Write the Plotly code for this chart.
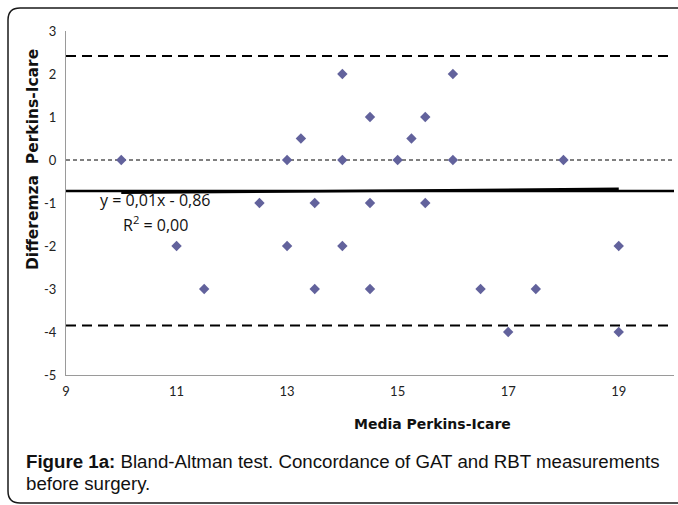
import plotly.graph_objects as go

# ---- data ----
media = [10, 11, 11.5, 12.5, 13, 13, 13.25, 13.5, 13.5, 14, 14, 14, 14.5, 14.5, 14.5,
         15, 15.25, 15.5, 15.5, 16, 16, 16.5, 17, 17.5, 18, 19, 19]
differenza = [0, -2, -3, -1, 0, -2, 0.5, -1, -3, 2, 0, -2, 1, -1, -3,
              0, 0.5, 1, -1, 2, 0, -3, -4, -3, 0, -2, -4]
mean_diff = -0.72
upper_loa = 2.42
lower_loa = -3.85
trend_slope = 0.01
trend_intercept = -0.86
trend_x = [10, 19]
x_ticks = [9, 11, 13, 15, 17, 19]
x_tick_labels = ["9", "11", "13", "15", "17", "19"]
y_ticks = [-5, -4, -3, -2, -1, 0, 1, 2, 3]
y_tick_labels = ["-5", "-4", "-3", "-2", "-1", "0", "1", "2", "3"]
x_range = [9, 20]
y_range = [-5, 3]

W, H = 678, 505
L, R, T, B = 66, 4, 31, 130
pw, ph = W - L - R, H - T - B

def px(x):
    return (x - L) / pw

def py(y):
    return (H - B - y) / ph

fig = go.Figure()

# zero line (thin dashed)
fig.add_trace(go.Scatter(x=x_range, y=[0, 0], mode="lines",
                         line=dict(color="black", width=1, dash="4px,3px"),
                         hoverinfo="skip", showlegend=False))
# limits of agreement
for v in (upper_loa, lower_loa):
    fig.add_trace(go.Scatter(x=x_range, y=[v, v], mode="lines",
                             line=dict(color="black", width=2, dash="10px,6px"),
                             hoverinfo="skip", showlegend=False))
# mean line
fig.add_trace(go.Scatter(x=x_range, y=[mean_diff, mean_diff], mode="lines",
                         line=dict(color="black", width=2.5),
                         hoverinfo="skip", showlegend=False))
# trend line
trend_y = [trend_slope * x + trend_intercept for x in trend_x]
fig.add_trace(go.Scatter(x=trend_x, y=trend_y, mode="lines",
                         line=dict(color="black", width=2.5),
                         hoverinfo="skip", showlegend=False))
# points
fig.add_trace(go.Scatter(x=media, y=differenza, mode="markers",
                         marker=dict(symbol="diamond", size=8, color="#62629c",
                                     line=dict(width=0)),
                         showlegend=False))

tick_font = dict(family="Lato, Carlito, Calibri, sans-serif", size=13, color="#222")

fig.update_xaxes(range=x_range, tickvals=x_ticks, ticktext=x_tick_labels,
                 showgrid=False, zeroline=False,
                 showline=True, linecolor="#9a9a9a", linewidth=1, ticks="",
                 tickfont=tick_font, ticklabelstandoff=4)
fig.update_yaxes(range=y_range, tickvals=y_ticks, ticktext=y_tick_labels,
                 showgrid=False, zeroline=False,
                 showline=True, linecolor="#9a9a9a", linewidth=1, ticks="",
                 tickfont=tick_font, ticklabelstandoff=6)

# rounded border
lft, rgt, top, bot = px(8), px(680), py(8), py(503)
rx, ry = 12 / pw, 12 / ph
path = (f"M {lft},{top - ry} Q {lft},{top} {lft + rx},{top} L {rgt},{top} "
        f"L {rgt},{bot} L {lft + rx},{bot} Q {lft},{bot} {lft},{bot + ry} Z")
fig.add_shape(type="path", path=path, xref="paper", yref="paper",
              line=dict(color="#1a1a1a", width=1.5), fillcolor="rgba(0,0,0,0)")

ytitle_font = dict(family="DejaVu Sans, sans-serif", size=15.5, color="#111")
xtitle_font = dict(family="DejaVu Sans, sans-serif", size=14, color="#111")
eq_font = dict(family="Open Sans, sans-serif", size=16, color="#111")
cap_font = dict(family="Liberation Sans, Arial, sans-serif", size=18.7, color="#111")

annos = [
    dict(x=px(33), y=py(160), text="<b>Differemza  Perkins-Icare</b>", textangle=-90,
         font=ytitle_font, xanchor="center", yanchor="middle"),
    dict(x=px(432), y=py(424), text="<b>Media Perkins-Icare</b>",
         font=xtitle_font, xanchor="center", yanchor="middle"),
    dict(x=px(155), y=py(200), text="y = 0,01x - 0,86",
         font=eq_font, xanchor="center", yanchor="middle"),
    dict(x=px(155), y=py(224), text="R<sup>2</sup> = 0,00",
         font=eq_font, xanchor="center", yanchor="middle"),
    dict(x=px(24), y=py(461),
         text="<b>Figure 1a:</b> Bland-Altman test. Concordance of GAT and RBT measurements",
         font=cap_font, xanchor="left", yanchor="middle"),
    dict(x=px(24), y=py(483), text="before surgery.",
         font=cap_font, xanchor="left", yanchor="middle"),
]
for a in annos:
    fig.add_annotation(xref="paper", yref="paper", showarrow=False, **a)

fig.update_layout(width=W, height=H, margin=dict(l=L, r=R, t=T, b=B),
                  paper_bgcolor="white", plot_bgcolor="white")

fig.write_html("out.html")
